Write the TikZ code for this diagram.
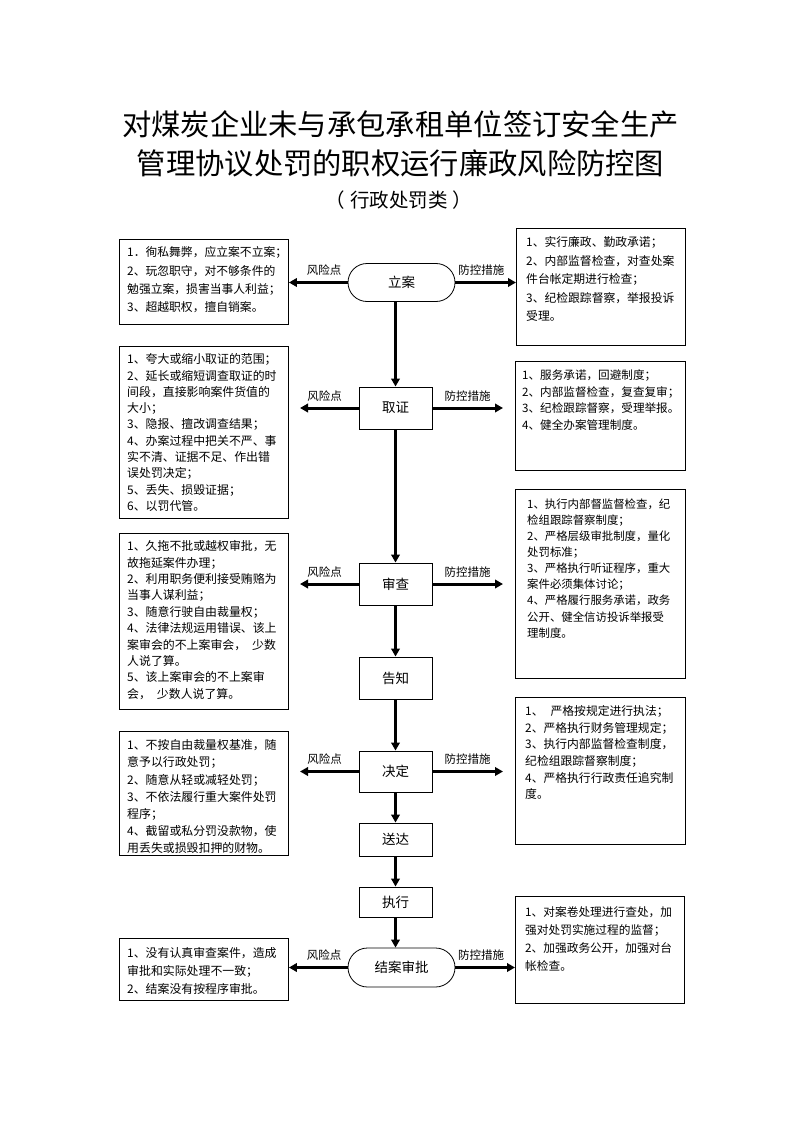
\documentclass[tikz,border=0pt]{standalone}
\usepackage{fontspec}
\setmainfont{Noto Sans CJK SC}
\usetikzlibrary{arrows.meta}
\begin{document}
\begin{tikzpicture}[x=1pt,y=-1pt,
  sidebox/.style={draw, line width=0.9pt, anchor=north west, inner sep=0pt},
  btext/.style={anchor=north west, inner sep=0pt, align=left},
  procbox/.style={draw, line width=0.9pt, minimum width=73pt, minimum height=42pt, inner sep=0pt, font=\fontsize{13.5}{16}\selectfont},
  stadium/.style={draw, line width=0.8pt, rounded corners=19pt, minimum width=107pt, minimum height=38pt, inner sep=0pt, font=\fontsize{13.5}{16}\selectfont},
  flow/.style={line width=3pt, -{Triangle[length=8pt,width=8.5pt]}},
  lbl/.style={font=\fontsize{11.5}{13}\selectfont, inner sep=1pt},
  titlefont/.style={font=\fontsize{29.3}{32}\selectfont, inner sep=0pt},
  subfont/.style={font=\fontsize{19.5}{22}\selectfont, inner sep=0pt}
]
\useasboundingbox[fill=white] (0,0) rectangle (794,1123);

% title
\node[titlefont] (t1) at (400.5,124) {对煤炭企业未与承包承租单位签订安全生产};
\node[titlefont] (t2) at (400.5,163) {管理协议处罚的职权运行廉政风险防控图};
\node[subfont] (t3) at (399,200) {（\hspace{0.25em}行政处罚类\hspace{0.25em}）};

% process nodes
\node[stadium] (la) at (401.5,282.5) {立案};
\node[procbox] (qz) at (395.5,408) {取证};
\node[procbox] (sc) at (395.5,584) {审查};
\node[procbox] (gz) at (395.5,678) {告知};
\node[procbox, minimum height=41pt] (jd) at (395.5,771.5) {决定};
\node[procbox, minimum height=33pt] (sd) at (395.5,839.5) {送达};
\node[procbox, minimum height=30pt] (zx) at (395.5,902) {执行};
\node[stadium, minimum height=39pt, rounded corners=19.5pt] (ja) at (401.5,967.5) {结案审批};

% side boxes
\node[sidebox, minimum width=169pt, minimum height=85pt] (lb1) at (119,239) {};
\node[sidebox, minimum width=169pt, minimum height=117pt] (rb1) at (516,228) {};
\node[sidebox, minimum width=169pt, minimum height=172pt] (lb2) at (119,346) {};
\node[sidebox, minimum width=170pt, minimum height=109pt] (rb2) at (515,361) {};
\node[sidebox, minimum width=170pt, minimum height=189pt] (rb3) at (515,489) {};
\node[sidebox, minimum width=169pt, minimum height=176pt] (lb3) at (119,533) {};
\node[sidebox, minimum width=170pt, minimum height=147pt] (rb4) at (515,697) {};
\node[sidebox, minimum width=169pt, minimum height=124pt] (lb4) at (119,731) {};
\node[sidebox, minimum width=169pt, minimum height=107pt] (rb5) at (515,896) {};
\node[sidebox, minimum width=169pt, minimum height=62pt] (lb5) at (119,938) {};

% side box texts
\node[btext, font=\fontsize{11.8}{18.3}\selectfont] (lt1) at ([xshift=8pt,yshift=-7.5pt]lb1.north west)
{1．徇私舞弊，应立案不立案；\\2、玩忽职守，对不够条件的\\勉强立案，损害当事人利益；\\3、超越职权，擅自销案。};
\node[btext, font=\fontsize{11.8}{18.5}\selectfont] (rt1) at ([xshift=10pt,yshift=-8.5pt]rb1.north west)
{1、实行廉政、勤政承诺；\\2、内部监督检查，对查处案\\件台帐定期进行检查；\\3、纪检跟踪督察，举报投诉\\受理。};
\node[btext, font=\fontsize{11.9}{16.3}\selectfont] (lt2) at ([xshift=8pt,yshift=-7.5pt]lb2.north west)
{1、夸大或缩小取证的范围；\\2、延长或缩短调查取证的时\\间段，直接影响案件货值的\\大小；\\3、隐报、擅改调查结果；\\4、办案过程中把关不严、事\\实不清、证据不足、作出错\\误处罚决定；\\5、丢失、损毁证据；\\6、以罚代管。};
\node[btext, font=\fontsize{11.6}{16.5}\selectfont] (rt2) at ([xshift=7pt,yshift=-8.5pt]rb2.north west)
{1、服务承诺，回避制度；\\2、内部监督检查，复查复审；\\3、纪检跟踪督察，受理举报。\\4、健全办案管理制度。};
\node[btext, font=\fontsize{11.4}{16.1}\selectfont] (rt3) at ([xshift=12pt,yshift=-9.5pt]rb3.north west)
{1、执行内部督监督检查，纪\\检组跟踪督察制度；\\2、严格层级审批制度，量化\\处罚标准；\\3、严格执行听证程序，重大\\案件必须集体讨论；\\4、严格履行服务承诺，政务\\公开、健全信访投诉举报受\\理制度。};
\node[btext, font=\fontsize{11.9}{16.4}\selectfont] (lt3) at ([xshift=8pt,yshift=-7.5pt]lb3.north west)
{1、久拖不批或越权审批，无\\故拖延案件办理；\\2、利用职务便利接受贿赂为\\当事人谋利益；\\3、随意行驶自由裁量权；\\4、法律法规运用错误、该上\\案审会的不上案审会，\hspace{0.5em}少数\\人说了算。\\5、该上案审会的不上案审\\会，\hspace{0.5em}少数人说了算。};
\node[btext, font=\fontsize{11.8}{16.6}\selectfont] (rt4) at ([xshift=10pt,yshift=-8.5pt]rb4.north west)
{1、\hspace{0.6em}严格按规定进行执法；\\2、严格执行财务管理规定；\\3、执行内部监督检查制度，\\纪检组跟踪督察制度；\\4、严格执行行政责任追究制\\度。};
\node[btext, font=\fontsize{11.9}{17.2}\selectfont] (lt4) at ([xshift=8pt,yshift=-8.5pt]lb4.north west)
{1、不按自由裁量权基准，随\\意予以行政处罚；\\2、随意从轻或减轻处罚；\\3、不依法履行重大案件处罚\\程序；\\4、截留或私分罚没款物，使\\用丢失或损毁扣押的财物。};
\node[btext, font=\fontsize{11.7}{18}\selectfont] (rt5) at ([xshift=10pt,yshift=-10.5pt]rb5.north west)
{1、对案卷处理进行查处，加\\强对处罚实施过程的监督；\\2、加强政务公开，加强对台\\帐检查。};
\node[btext, font=\fontsize{11.9}{18}\selectfont] (lt5) at ([xshift=8pt,yshift=-9.5pt]lb5.north west)
{1、没有认真审查案件，造成\\审批和实际处理不一致；\\2、结案没有按程序审批。};

% free arrow ends
\coordinate (qzL) at (300,408);
\coordinate (qzR) at (503,408);
\coordinate (scL) at (300,584);
\coordinate (scR) at (503,584);
\coordinate (jdL) at (300,771.5);
\coordinate (jdR) at (503,771.5);

% vertical flow
\draw[flow] (la.south -| qz.north) -- (qz.north);
\draw[flow] (qz.south) -- (sc.north);
\draw[flow] (sc.south) -- (gz.north);
\draw[flow] (gz.south) -- (jd.north);
\draw[flow] (jd.south) -- (sd.north);
\draw[flow] (sd.south) -- (zx.north);
\draw[flow] (zx.south) -- (ja.north -| zx.south);

% horizontal arrows
\draw[flow] (la.west) -- node[lbl, above=4.5pt, pos=0.4] {风险点} (la.west -| lb1.east);
\draw[flow] (la.east) -- node[lbl, above=4.5pt, pos=0.43] {防控措施} (la.east -| rb1.west);
\draw[flow] (qz.west) -- node[lbl, above=4.5pt, pos=0.58] {风险点} (qzL);
\draw[flow] (qz.east) -- node[lbl, above=4.5pt] {防控措施} (qzR);
\draw[flow] (sc.west) -- node[lbl, above=4.5pt, pos=0.58] {风险点} (scL);
\draw[flow] (sc.east) -- node[lbl, above=4.5pt] {防控措施} (scR);
\draw[flow] (jd.west) -- node[lbl, above=4.5pt, pos=0.58] {风险点} (jdL);
\draw[flow] (jd.east) -- node[lbl, above=4.5pt] {防控措施} (jdR);
\draw[flow] (ja.west) -- node[lbl, above=4.5pt, pos=0.4] {风险点} (ja.west -| lb5.east);
\draw[flow] (ja.east) -- node[lbl, above=4.5pt, pos=0.43] {防控措施} (ja.east -| rb5.west);
\end{tikzpicture}
\end{document}
